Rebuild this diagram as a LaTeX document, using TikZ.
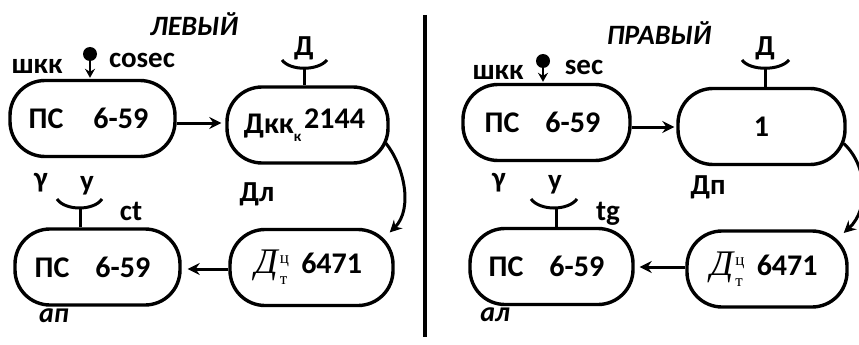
\documentclass[tikz,border=0pt]{standalone}
\usepackage{fontspec}
\setmainfont{Carlito}
\newfontfamily\serfont{Liberation Serif}
\usetikzlibrary{arrows.meta,calc}
\newcommand\dtsym{{\serfont\mdseries\itshape\fontsize{36}{36}\selectfont Д}\hspace{2pt}\rlap{\raisebox{10pt}{\serfont\mdseries\fontsize{17}{17}\selectfont ц}}\raisebox{-11pt}{\serfont\mdseries\fontsize{17}{17}\selectfont т}}
\begin{document}
\begin{tikzpicture}[x=1pt,y=-1pt,
  box/.style={draw,line width=3.4pt,rounded corners=35pt,minimum width=165pt,minimum height=76pt,inner sep=0pt,font=\bfseries\fontsize{30}{32}\selectfont},
  lbl/.style={font=\bfseries\fontsize{29}{32}\selectfont,inner sep=0pt},
  ttl/.style={font=\bfseries\itshape\fontsize{28}{32}\selectfont,inner sep=0pt},
  conn/.style={line width=3pt,-{Stealth[length=12pt,width=12pt,inset=4pt]}},
  pinarr/.style={line width=2.6pt,-{Stealth[length=9pt,width=10pt,inset=3pt]}},
  pin/.style={circle,fill,inner sep=0pt,minimum size=14pt},
  cup/.style={line width=3pt},
]
\useasboundingbox (0,0) rectangle (859,345);
\fill[white] (0,0) rectangle (859,345);

% separator
\draw[line width=3.2pt] (425,15) -- (425,337);

% ---------- left ----------
\node[ttl] (tL) at (194,24) {ЛЕВЫЙ};
\node[box] (L1) at (92.5,118.5) {\hspace{-8pt}ПС\hspace{30pt}6-59};
\node[box,minimum width=161pt] (L2) at (307.5,125) {\hspace{-6pt}Дкк\raisebox{-8pt}{\fontsize{15}{15}\selectfont к}\hspace{3pt}\raisebox{5pt}{2144}};
\node[box] (L3) at (97.5,267) {\hspace{-10pt}ПС\hspace{26pt}6-59};
\node[box,minimum width=163pt] (L4) at (311.5,267.5) {\hspace{-6pt}\dtsym\hspace{14pt}6471};

\node[lbl] (shL) at (37,66) {шкк};
\node[lbl] (coL) at (142,60) {cosec};
\node[pin] (pL) at (90,54) {};
\draw[pinarr] (pL) -- ([yshift=1pt]pL |- L1.north);

\node[lbl] (dL) at (304,48) {Д};
\coordinate (cL) at (304,68);
\draw[cup] (282,60) .. controls (290,71) and (318,71) .. (327,60);
\draw[cup] (cL) -- (cL |- L2.north);

\node[lbl] (gL) at (41,183) {γ};
\node[lbl] (yL) at (87,186) {y};
\coordinate (cL3) at (80,208);
\draw[cup] (57,199) .. controls (65,211) and (94,211) .. (102,199);
\draw[cup] (cL3) -- (cL3 |- L3.north);
\node[lbl] (ctL) at (131,211) {ct};
\node[lbl] (dlL) at (257,194) {Дл};
\node[ttl] (apL) at (54,316) {ап};

\draw[conn,shorten >=4pt] ([yshift=-4.5pt]L1.east) -- ([yshift=-4.5pt]L1.east -| L2.west);
\draw[conn,shorten >=6pt] ([yshift=-1.5pt]L4.west) -- ([yshift=-1.5pt]L4.west -| L3.east);
\draw[conn] ([xshift=-4pt,yshift=-18pt]L2.east) .. controls +(18,22) and +(24,-24) .. ([xshift=-5pt,yshift=35pt]L4.east);

% ---------- right ----------
\node[ttl] (tR) at (659,33) {ПРАВЫЙ};
\node[box,minimum width=167pt] (R1) at (546.5,122.5) {\hspace{-8pt}ПС\hspace{26pt}6-59};
\node[box,minimum width=167pt] (R2) at (761.5,126.5) {1};
\node[box,minimum width=163pt] (R3) at (551.5,266.5) {\hspace{-10pt}ПС\hspace{26pt}6-59};
\node[box,minimum width=160pt] (R4) at (767,269) {\hspace{-6pt}\dtsym\hspace{14pt}6471};

\node[lbl] (shR) at (498,72) {шкк};
\node[lbl] (seR) at (584,67) {sec};
\node[pin] (pR) at (543,61) {};
\draw[pinarr] (pR) -- ([yshift=1pt]pR |- R1.north);

\node[lbl] (dR) at (765,48) {Д};
\coordinate (cR) at (765,68);
\draw[cup] (742,60) .. controls (750,71) and (780,71) .. (789,60);
\draw[cup] (cR) -- (cR |- R2.north);

\node[lbl] (gR) at (499,183) {γ};
\node[lbl] (yR) at (555,185) {y};
\coordinate (cR3) at (556,208);
\draw[cup] (531,199) .. controls (540,211) and (568,211) .. (577,199);
\draw[cup] (cR3) -- (cR3 |- R3.north);
\node[lbl] (tgR) at (608,214) {tg};
\node[lbl] (dpR) at (708,187) {Дп};
\node[ttl] (alR) at (495,315) {ал};

\draw[conn,shorten >=2pt] ([yshift=-4.5pt]R1.east) -- ([yshift=-4.5pt]R1.east -| R2.west);
\draw[conn,shorten >=5pt] ([yshift=2pt]R4.west) -- ([yshift=2pt]R4.west -| R3.east);
\draw[conn] ([xshift=-3pt,yshift=-17pt]R2.east) .. controls +(24,22) and +(26,-24) .. ([xshift=-5pt,yshift=36pt]R4.east);
\end{tikzpicture}
\end{document}
